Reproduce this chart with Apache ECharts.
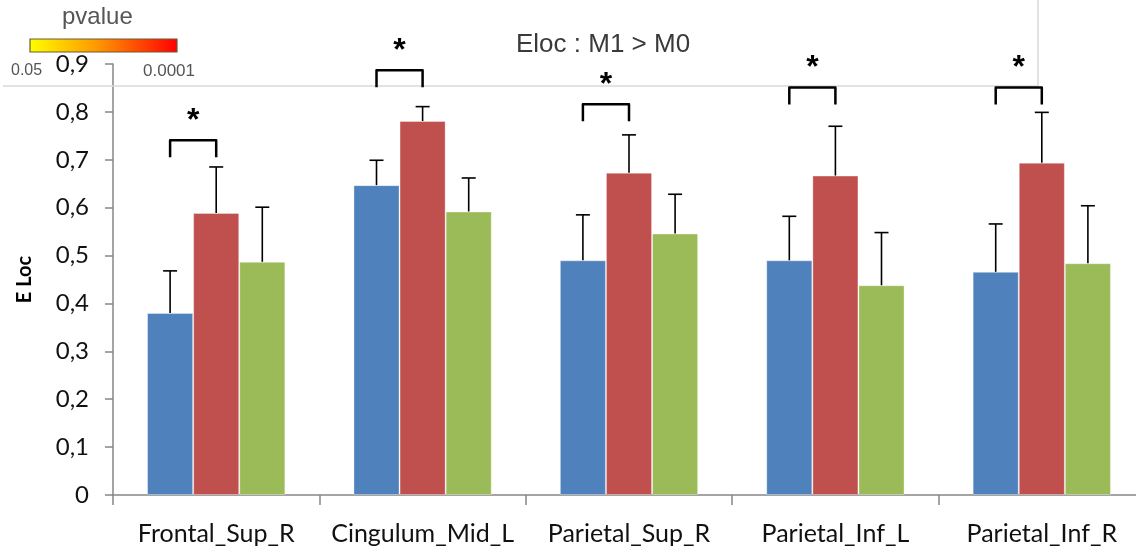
<!DOCTYPE html>
<html>
<head>
<meta charset="UTF-8">
<title>Eloc : M1 > M0</title>
<script src="https://cdn.jsdelivr.net/npm/echarts@6/dist/echarts.min.js"></script>
<style>
  body { margin: 0; background: #fff; }
  #chart { width: 1136px; height: 550px; }
</style>
</head>
<body>
<div id="chart"></div>
<script>
// regions
const categories = ['Frontal_Sup_R', 'Cingulum_Mid_L', 'Parietal_Sup_R', 'Parietal_Inf_L', 'Parietal_Inf_R'];
// mean E Loc per condition
const blueVals  = [0.380, 0.647, 0.490, 0.490, 0.466];
const redVals   = [0.589, 0.781, 0.673, 0.667, 0.694];
const greenVals = [0.487, 0.592, 0.546, 0.438, 0.484];
// upper error (sd)
const blueErr  = [0.088, 0.052, 0.095, 0.092, 0.100];
const redErr   = [0.096, 0.030, 0.079, 0.103, 0.105];
const greenErr = [0.114, 0.070, 0.082, 0.110, 0.120];
// significance brackets (blue vs red), top of bracket
const bracketTop = [0.741, 0.887, 0.816, 0.851, 0.851];
const yTicks = [0, 0.1, 0.2, 0.3, 0.4, 0.5, 0.6, 0.7, 0.8, 0.9];

const GAP = 0.33;
const colors = ['#4F81BD', '#C0504D', '#9BBB59'];

function barW(api) {
    return api.size([1, 0])[0] * (1 - GAP) / 3;
}

function errSeries(vals, errs, slot) {
    return {
        type: 'custom',
        clip: false,
        z: 5,
        data: vals.map((v, i) => [i, v, v + errs[i]]),
        renderItem: function (params, api) {
            const i = api.value(0);
            const b = api.coord([i, api.value(1)]);
            const t = api.coord([i, api.value(2)]);
            const x = b[0] + (slot - 1) * barW(api);
            const st = { stroke: '#000', lineWidth: 1.6 };
            return {
                type: 'group',
                children: [
                    { type: 'line', shape: { x1: x, y1: b[1], x2: x, y2: t[1] }, style: st },
                    { type: 'line', shape: { x1: x - 7, y1: t[1], x2: x + 7, y2: t[1] }, style: st }
                ]
            };
        }
    };
}

const chart = echarts.init(document.getElementById('chart'));
chart.setOption({
    animation: false,
    backgroundColor: '#fff',
    grid: { left: 113, top: 64, width: 1032, height: 431, containLabel: false, outerBoundsMode: 'none' },
    xAxis: {
        type: 'category',
        data: categories,
        axisLine: { lineStyle: { color: '#868686', width: 1.5 } },
        axisTick: { show: true, length: 10, lineStyle: { color: '#868686', width: 1.5 } },
        axisLabel: { color: '#111', fontFamily: 'Lato', fontSize: 25, margin: 26, interval: 0 }
    },
    yAxis: {
        type: 'value',
        min: 0, max: 0.9, interval: 0.1,
        name: 'E Loc',
        nameLocation: 'middle',
        nameRotate: 90,
        nameGap: 78,
        nameTextStyle: { color: '#000', fontFamily: 'Lato', fontWeight: 'bold', fontSize: 20 },
        splitLine: { show: false },
        axisLine: { show: true, lineStyle: { color: '#868686', width: 1.5 } },
        axisTick: { show: true, length: 8, lineStyle: { color: '#868686', width: 1.5 } },
        axisLabel: {
            color: '#111', fontFamily: 'Lato', fontSize: 24, margin: 24,
            formatter: v => {
                const t = yTicks.find(k => Math.abs(k - v) < 1e-6);
                return t === 0 ? '0' : String(+v.toFixed(1)).replace('.', ',');
            }
        }
    },
    series: [
        { type: 'bar', data: blueVals, barGap: '0%', barCategoryGap: '33%', itemStyle: { color: colors[0], borderColor: 'rgba(255,255,255,0.35)', borderWidth: 1 } },
        { type: 'bar', data: redVals, barGap: '0%', barCategoryGap: '33%', itemStyle: { color: colors[1], borderColor: 'rgba(255,255,255,0.35)', borderWidth: 1 } },
        { type: 'bar', data: greenVals, barGap: '0%', barCategoryGap: '33%', itemStyle: { color: colors[2], borderColor: 'rgba(255,255,255,0.35)', borderWidth: 1 } },
        errSeries(blueVals, blueErr, 0),
        errSeries(redVals, redErr, 1),
        errSeries(greenVals, greenErr, 2),
        {
            type: 'custom',
            clip: false,
            z: 6,
            data: bracketTop.map((v, i) => [i, v]),
            renderItem: function (params, api) {
                const i = api.value(0);
                const c = api.coord([i, api.value(1)]);
                const bw = barW(api);
                const x1 = c[0] - bw, x2 = c[0], y = c[1];
                return {
                    type: 'group',
                    children: [
                        {
                            type: 'polyline',
                            shape: { points: [[x1, y + 17], [x1, y], [x2, y], [x2, y + 17]] },
                            style: { stroke: '#000', lineWidth: 2.5, fill: null, lineJoin: 'round' }
                        },
                        {
                            type: 'text',
                            style: {
                                x: (x1 + x2) / 2, y: y - 19, text: '*',
                                fontFamily: 'Liberation Sans', fontWeight: 'bold', fontSize: 32,
                                fill: '#000', align: 'center', verticalAlign: 'middle'
                            }
                        }
                    ]
                };
            }
        }
    ],
    graphic: [
        { type: 'line', shape: { x1: 3, y1: 86, x2: 1038, y2: 86 }, style: { stroke: '#d9d9d9', lineWidth: 1.5 }, z: 1 },
        { type: 'line', shape: { x1: 1038, y1: 0, x2: 1038, y2: 86 }, style: { stroke: '#d9d9d9', lineWidth: 1.5 }, z: 1 },
        {
            type: 'text', left: 516, top: 32,
            style: { text: 'Eloc : M1 > M0', fontFamily: 'Liberation Sans', fontSize: 26, fill: '#3a3a3a' }
        },
        {
            type: 'text', left: 62, top: 5,
            style: { text: 'pvalue', fontFamily: 'Liberation Sans', fontSize: 24, fill: '#555' }
        },
        {
            type: 'rect', shape: { x: 30, y: 39, width: 147, height: 13 },
            style: {
                fill: new echarts.graphic.LinearGradient(0, 0, 1, 0, [
                    { offset: 0, color: '#ffff00' },
                    { offset: 0.45, color: '#ff9900' },
                    { offset: 1, color: '#ff0000' }
                ]),
                stroke: '#6b5a3a', lineWidth: 1.2
            }
        },
        {
            type: 'text', left: 11, top: 63,
            style: { text: '0.05', fontFamily: 'Liberation Sans', fontSize: 16, fill: '#555' }
        },
        {
            type: 'text', left: 143, top: 63,
            style: { text: '0.0001', fontFamily: 'Liberation Sans', fontSize: 17, fill: '#555' }
        }
    ]
});
</script>
</body>
</html>
